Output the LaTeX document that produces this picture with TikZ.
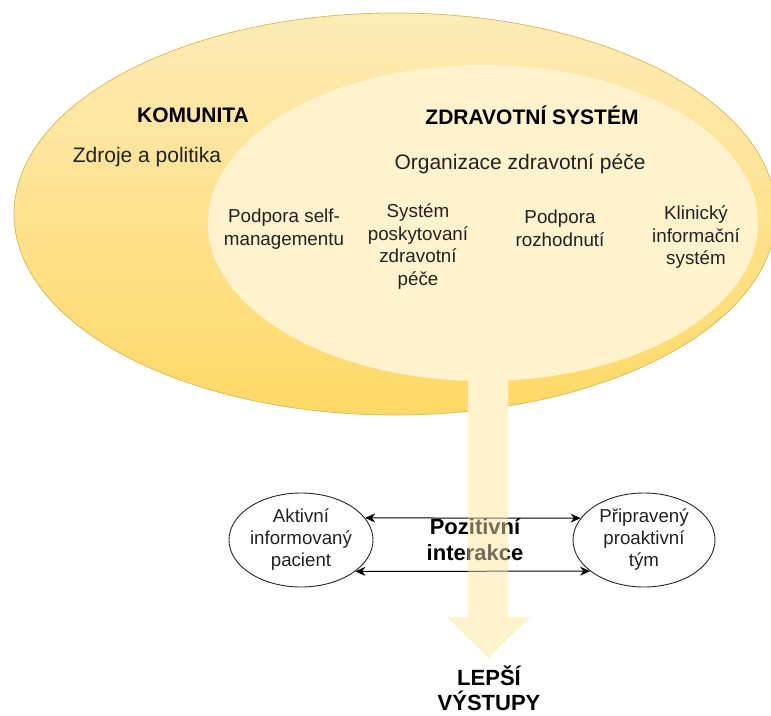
\documentclass[tikz,border=0pt]{standalone}
\usepackage{fontspec}
\setmainfont{Liberation Sans}
\usetikzlibrary{arrows.meta,shapes.geometric}
\definecolor{creamfill}{HTML}{FFF2CC}
\definecolor{paleGold}{HTML}{FDEBB6}
\definecolor{goldfill}{HTML}{FFD966}
\definecolor{goldline}{HTML}{D6B656}
\definecolor{inktext}{HTML}{222222}

\begin{document}
\begin{tikzpicture}[x=1pt,y=-1pt,
  bigarrow/.style={insert path={(468,372) -- (508,372) -- (508,617) -- (530,617)
      -- (488.5,658) -- (447,617) -- (468,617) -- cycle}},
  heading/.style={font=\fontsize{21}{25}\selectfont\bfseries, inner sep=0pt},
  sublabel/.style={font=\fontsize{21}{25}\selectfont, inner sep=0pt, text=inktext},
  element/.style={font=\fontsize{18.8}{22.5}\selectfont, align=center, inner sep=0pt,
      text=inktext},
  actor/.style={ellipse, draw=black!85, line width=0.9pt, fill=white,
      minimum width=142pt, minimum height=94pt, inner sep=0pt, align=center,
      font=\fontsize{18.7}{22}\selectfont, text=inktext},
  link/.style={{Stealth[length=10pt,width=9pt]}-{Stealth[length=10pt,width=9pt]},
      line width=1pt},
  result/.style={font=\fontsize{22}{26}\selectfont\bfseries, align=center, inner sep=0pt},
]
\useasboundingbox (0,0) rectangle (771,715);

% community (outer) and health system (inner) ellipses
\shade[top color=paleGold, bottom color=goldfill]
  (395,214) ellipse [x radius=381, y radius=201];
\draw[goldline, line width=0.7pt] (395,214) ellipse [x radius=381, y radius=201];
\fill[creamfill] (483,223) ellipse [x radius=275, y radius=158];

% outcome arrow (opaque layer)
\fill[creamfill, bigarrow];

% texts in the ellipses
\node[heading] (kom) at (193,115) {KOMUNITA};
\node[heading] (zs) at (532,115) {ZDRAVOTNÍ SYSTÉM};
\node[sublabel] (zdroje) at (147,157) {Zdroje a politika};
\node[sublabel] (org) at (520,164) {Organizace zdravotní péče};
\node[element] (self) at (284,229) {Podpora self-\\managementu};
\node[element] (dsys) at (418,246.5) {Systém\\poskytovaní\\zdravotní\\péče};
\node[element] (rozh) at (560,228.5) {Podpora\\rozhodnutí};
\node[element] (kis) at (696,237.5) {Klinický\\informační\\systém};

% interaction between patient and team
\node[actor] (pac) at (301,540) {Aktivní\\informovaný\\pacient};
\node[actor] (tym) at (644,540) {Připravený\\proaktivní\\tým};
\draw[link] (pac.19) -- (tym.161);
\draw[link] (pac.-30) -- (tym.-150);
\node[result] (poz) at (475,540) {Pozitivní\\interakce};

% outcome arrow (translucent layer over the interaction)
\fill[creamfill, fill opacity=0.45, bigarrow];

\node[result, font=\fontsize{22}{25}\selectfont\bfseries] (vys) at (489,688) {LEPŠÍ\\VÝSTUPY};
\end{tikzpicture}
\end{document}
